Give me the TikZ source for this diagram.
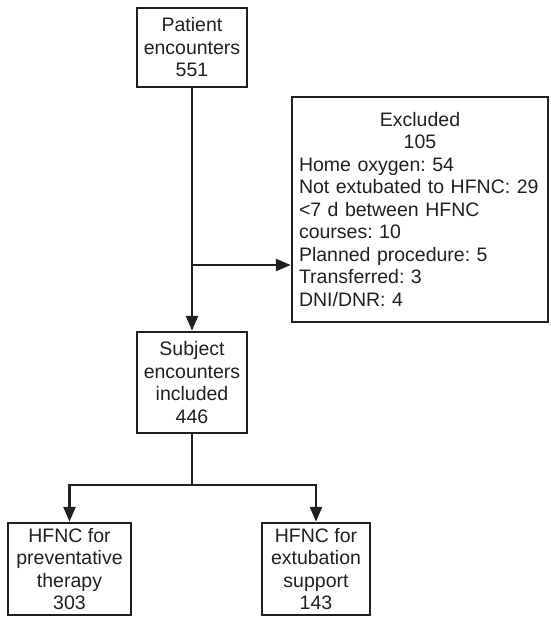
\documentclass[tikz,border=0pt]{standalone}
\usepackage{fontspec}
\setmainfont{Liberation Sans}
\usetikzlibrary{arrows.meta}
\definecolor{ink}{HTML}{231F20}
\frenchspacing
\begin{document}
\begin{tikzpicture}[x=1pt,y=-1pt,
  box/.style={draw=ink, line width=2.5pt, inner sep=0pt, align=center,
    font=\fontsize{19.5}{22.5}\selectfont, text=ink},
  arr/.style={draw=ink, line width=2.5pt, -{Triangle[length=15pt,width=12pt]}},
  ln/.style={draw=ink, line width=2.5pt}]
\useasboundingbox (0,0) rectangle (550,620);
\node[box, minimum width=110pt, minimum height=79pt] (pat) at (192,47.5) {Patient\\encounters\\551};
\node[box, minimum width=110pt, minimum height=101pt] (subj) at (192,382.5) {Subject\\encounters\\included\\446};
\node[box, minimum width=256pt, minimum height=225pt, text width=242pt, align=left] (excl) at (420,209.5)
  {{\centering Excluded\\105\par}Home oxygen: 54\\Not extubated to HFNC: 29\\{<}7 d between HFNC\\courses: 10\\Planned procedure: 5\\Transferred: 3\\DNI/DNR: 4};
\node[box, minimum width=123pt, minimum height=92pt] (left) at (69.5,569) {HFNC for\\preventative\\therapy\\303};
\node[box, minimum width=108pt, minimum height=92pt] (right) at (316,569) {HFNC for\\extubation\\support\\143};
\coordinate (br) at (192,265);
\coordinate (split) at (192,485);
\draw[arr] (pat.south) -- (subj.north);
\draw[arr] (br) -- (br -| excl.west);
\draw[ln] (subj.south) -- (split);
\draw[arr] (split) -| (left.north);
\draw[arr] (split) -| (right.north);
\end{tikzpicture}
\end{document}
